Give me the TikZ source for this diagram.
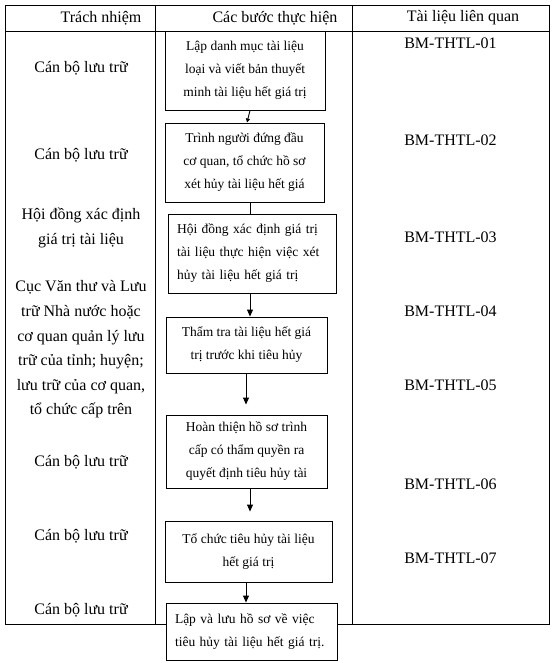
\documentclass[tikz,border=0pt]{standalone}
\usepackage{fontspec}
\setmainfont{Liberation Serif}
\usetikzlibrary{arrows.meta}
\begin{document}
\begin{tikzpicture}[x=1pt,y=-1pt,
  tbl/.style={draw=black, line width=0.9pt},
  stepbox/.style={draw=black, line width=0.9pt, fill=white, inner sep=0pt,
    font=\fontsize{13.5}{23}\selectfont, align=center},
  coltext/.style={font=\fontsize{16}{24.6}\selectfont, align=center, inner sep=0pt},
  link/.style={line width=0.9pt},
  arr/.style={line width=0.9pt, -{Triangle[length=7pt,width=6pt]}}]
\useasboundingbox (0,0) rectangle (554,663);
% table
\draw[tbl] (5,5) rectangle (549,624);
\draw[tbl] (5,31) -- (549,31);
\draw[tbl] (155,5) -- (155,624);
\draw[tbl] (352,5) -- (352,624);
% headers
\node[coltext] (h1) at (101,18) {Trách nhiệm};
\node[coltext] (h2) at (275,18) {Các bước thực hiện};
\node[coltext] (h3) at (463,18) {Tài liệu liên quan};
% left column
\node[coltext] (l1) at (81,68) {Cán bộ lưu trữ};
\node[coltext] (l2) at (81,155) {Cán bộ lưu trữ};
\node[coltext] (l3) at (81,228) {Hội đồng xác định\\giá trị tài liệu};
\node[coltext] (l4) at (81,349.5) {Cục Văn thư và Lưu\\trữ Nhà nước hoặc\\cơ quan quản lý lưu\\trữ của tỉnh; huyện;\\lưu trữ của cơ quan,\\tổ chức cấp trên};
\node[coltext] (l5) at (81,462) {Cán bộ lưu trữ};
\node[coltext] (l6) at (81,536) {Cán bộ lưu trữ};
\node[coltext] (l7) at (81,610) {Cán bộ lưu trữ};
% right column
\node[coltext] (r1) at (450.5,43) {BM-THTL-01};
\node[coltext] (r2) at (450.5,140) {BM-THTL-02};
\node[coltext] (r3) at (450.5,237) {BM-THTL-03};
\node[coltext] (r4) at (450.5,311) {BM-THTL-04};
\node[coltext] (r5) at (450.5,385) {BM-THTL-05};
\node[coltext] (r6) at (450.5,484) {BM-THTL-06};
\node[coltext] (r7) at (450.5,558) {BM-THTL-07};
% steps
\node[stepbox, minimum width=160pt, minimum height=79pt] (b1) at (245,70.5)
  {Lập danh mục tài liệu\\loại và viết bản thuyết\\minh tài liệu hết giá trị};
\node[stepbox, minimum width=159pt, minimum height=79pt] (b2) at (244.5,162.5)
  {Trình người đứng đầu\\cơ quan, tổ chức hồ sơ\\xét hủy tài liệu hết giá};
\node[stepbox, align=left, text width=150pt, minimum width=168pt, minimum height=79pt] (b3) at (252,253.5)
  {Hội đồng xác định giá trị\\tài liệu thực hiện việc xét\\hủy tài liệu hết giá trị};
\node[stepbox, minimum width=161pt, minimum height=56pt] (b4) at (246.5,345)
  {Thẩm tra tài liệu hết giá\\trị trước khi tiêu hủy};
\node[stepbox, minimum width=161pt, minimum height=73pt] (b5) at (246.5,451.5)
  {Hoàn thiện hồ sơ trình\\cấp có thẩm quyền ra\\quyết định tiêu hủy tài};
\node[stepbox, minimum width=167pt, minimum height=61pt] (b6) at (248.5,551.5)
  {Tổ chức tiêu hủy tài liệu\\hết giá trị};
\node[stepbox, align=left, text width=153pt, minimum width=171pt, minimum height=57pt] (b7) at (251.5,631.5)
  {Lập và lưu hồ sơ về việc\\tiêu hủy tài liệu hết giá trị.};
% connectors
\draw[link, -{Triangle[length=4pt,width=4pt]}] ([xshift=5pt]b1.south) -- ([xshift=2.5pt]b2.north);
\draw[link] ([xshift=5.5pt]b2.south) -- ([xshift=-2pt]b3.north);
\draw[arr] ([xshift=-2pt]b3.south) -- ([xshift=3.5pt]b4.north);
\draw[arr, shorten >=10pt] ([xshift=-0.5pt]b4.south) -- ([xshift=-0.5pt]b5.north);
\draw[arr, shorten >=9pt] ([xshift=3.5pt]b5.south) -- ([xshift=1.5pt]b6.north);
\draw[arr] ([xshift=-2.5pt]b6.south) -- ([xshift=-5.5pt]b7.north);
\end{tikzpicture}
\end{document}
